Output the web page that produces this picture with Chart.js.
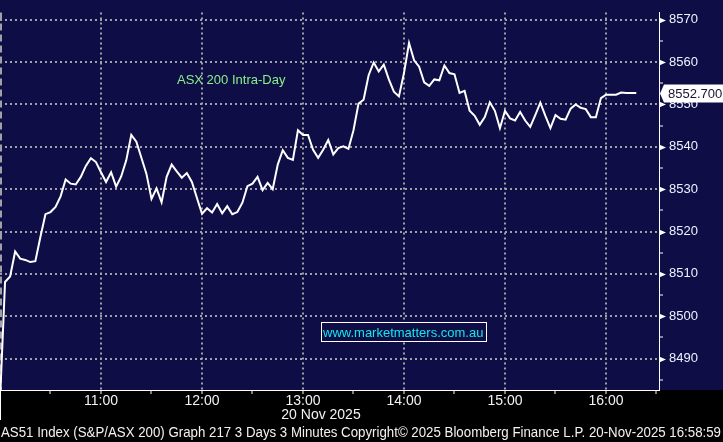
<!DOCTYPE html>
<html>
<head>
<meta charset="utf-8">
<script src="https://cdn.jsdelivr.net/npm/chart.js@4/dist/chart.umd.min.js"></script>
<style>
  html, body { margin: 0; padding: 0; background: #000; }
</style>
</head>
<body>
<canvas id="chartAsx" width="723" height="442"></canvas>
<script>
// AS51 intraday, 3 minute closes from 10:00
const startHour = 10;
const stepMinutes = 3;
const closes = [
  8480.0, 8508.1, 8509.4, 8515.3, 8513.6, 8513.3, 8512.8, 8513.0, 8518.7, 8524.1,
  8524.6, 8525.8, 8528.3, 8532.3, 8531.3, 8531.1, 8532.9, 8535.5, 8537.3, 8536.4,
  8534.0, 8531.7, 8534.0, 8530.6, 8533.0, 8536.8, 8542.8, 8541.2, 8537.4, 8533.6,
  8527.7, 8530.2, 8526.9, 8532.9, 8535.8, 8534.2, 8532.7, 8533.8, 8531.7, 8527.9,
  8524.2, 8525.5, 8524.5, 8526.5, 8524.3, 8526.0, 8524.1, 8524.6, 8526.8, 8530.7,
  8531.3, 8532.9, 8529.8, 8531.5, 8530.0, 8535.8, 8539.2, 8537.4, 8536.9, 8543.9,
  8542.8, 8542.8, 8539.3, 8537.4, 8539.3, 8541.6, 8538.2, 8539.7, 8540.1, 8539.5,
  8543.9, 8550.2, 8551.1, 8556.9, 8559.9, 8557.8, 8559.4, 8555.9, 8553.0, 8551.9,
  8557.4, 8564.5, 8560.4, 8558.9, 8555.2, 8554.4, 8555.9, 8555.7, 8559.2, 8557.4,
  8557.1, 8552.7, 8553.2, 8548.5, 8547.3, 8545.2, 8547.0, 8550.5, 8548.5, 8544.4,
  8548.5, 8546.7, 8546.2, 8548.2, 8546.2, 8544.7, 8547.5, 8550.4, 8547.3, 8544.4,
  8547.5, 8546.6, 8546.4, 8549.0, 8550.0, 8549.2, 8548.9, 8547.0, 8547.0, 8551.5,
  8552.3, 8552.3, 8552.3, 8552.8, 8552.7, 8552.7, 8552.7
];
const lastValue = 8552.700;

const yMin = 8482.6;
const yMax = 8571.7;
const yMajorStep = 10;
const xMaxMinutes = 391.5;

const chartLabel = "ASX 200 Intra-Day";
const dateLabel = "20 Nov 2025";
const siteLabel = "www.marketmatters.com.au";
const footerText = "AS51 Index (S&P/ASX 200) Graph 217 3 Days 3 Minutes Copyright\u00A9 2025 Bloomberg Finance L.P. 20-Nov-2025 16:58:59";

const navy = '#0f0d45';
const gridGray = '#a0a0a6';
const fontFamily = '"Liberation Sans", Arial, sans-serif';

let points = closes.map((v, i) => ({ x: i * stepMinutes, y: v }));

// 🔥 background, labels, value tag
const bloombergFrame = {
  id: 'bloombergFrame',
  beforeDraw(chart) {
    let ctx = chart.ctx;
    ctx.save();
    ctx.fillStyle = '#000';
    ctx.fillRect(0, 0, chart.width, chart.height);
    ctx.fillStyle = navy;
    ctx.fillRect(0, 0, chart.width, chart.chartArea.bottom);
    ctx.restore();
  },
  beforeDatasetsDraw(chart) {
    let ctx = chart.ctx;
    let area = chart.chartArea;
    ctx.save();
    ctx.strokeStyle = gridGray;
    ctx.lineWidth = 2;
    ctx.setLineDash([7, 4]);
    ctx.beginPath();
    ctx.moveTo(1, area.top);
    ctx.lineTo(1, area.bottom);
    ctx.stroke();
    ctx.restore();
  },
  afterDraw(chart) {
    let ctx = chart.ctx;
    let area = chart.chartArea;
    let yScale = chart.scales.y;
    ctx.save();

    // triangles on major ticks
    ctx.fillStyle = '#ffffff';
    yScale.ticks.forEach(t => {
      if (t.value % yMajorStep !== 0) return;
      let py = Math.round(yScale.getPixelForValue(t.value)) + 0.5;
      ctx.beginPath();
      ctx.moveTo(area.right, py - 3);
      ctx.lineTo(area.right + 7, py);
      ctx.lineTo(area.right, py + 3);
      ctx.closePath();
      ctx.fill();
    });

    // left white line below plot
    ctx.strokeStyle = '#ffffff';
    ctx.lineWidth = 1;
    ctx.beginPath();
    ctx.moveTo(0.5, area.bottom);
    ctx.lineTo(0.5, area.bottom + 30);
    ctx.stroke();

    // chart label
    ctx.font = '13px ' + fontFamily;
    ctx.textBaseline = 'middle';
    ctx.textAlign = 'left';
    ctx.fillStyle = '#86f286';
    ctx.fillText(chartLabel, 177, 80);

    // site box
    ctx.fillStyle = navy;
    ctx.fillRect(321, 322, 166, 20);
    ctx.strokeStyle = '#ffffff';
    ctx.strokeRect(321.5, 322.5, 165, 19);
    ctx.fillStyle = '#12e6ee';
    ctx.fillText(siteLabel, 323, 333);

    // last value tag
    let ty = Math.round(yScale.getPixelForValue(lastValue)) + 0.5;
    ctx.fillStyle = '#ffffff';
    ctx.beginPath();
    ctx.moveTo(area.right + 1, ty);
    ctx.lineTo(area.right + 5, ty - 9);
    ctx.lineTo(chart.width, ty - 9);
    ctx.lineTo(chart.width, ty + 9);
    ctx.lineTo(area.right + 5, ty + 9);
    ctx.closePath();
    ctx.fill();
    ctx.fillStyle = '#1b1230';
    ctx.fillText(lastValue.toFixed(3), area.right + 9, ty + 0.5);

    // date under the time axis
    ctx.font = '14px ' + fontFamily;
    ctx.fillStyle = '#f2f2f2';
    ctx.textAlign = 'center';
    ctx.fillText(dateLabel, 321, 415);

    // footer, squeezed to the canvas width
    ctx.textAlign = 'left';
    let w = ctx.measureText(footerText).width;
    ctx.translate(1, 433);
    ctx.scale(Math.min(1, 720 / w), 1);
    ctx.fillText(footerText, 0, 0);

    ctx.restore();
  }
};

let ctx = document.getElementById('chartAsx').getContext('2d');

let chart = new Chart(ctx, {
  type: 'line',
  data: {
    datasets: [{
      data: points,
      borderColor: '#ffffff',
      borderWidth: 2,
      pointRadius: 0,
      tension: 0,
      fill: false
    }]
  },
  options: {
    responsive: false,
    animation: false,
    devicePixelRatio: 1,
    layout: { padding: 0 },
    plugins: {
      legend: { display: false },
      tooltip: { enabled: false }
    },
    scales: {
      x: {
        type: 'linear',
        min: 0,
        max: xMaxMinutes,
        afterFit: s => { s.height = 52; },
        border: { display: true, color: '#ffffff', width: 1, dash: [2, 3] },
        grid: {
          color: c => (c.tick && c.tick.value > 0 && c.tick.value % 60 === 0) ? gridGray : 'transparent',
          lineWidth: 2,
          drawTicks: true,
          tickLength: 4,
          tickColor: '#ffffff',
          tickWidth: 1,
          tickBorderDash: []
        },
        ticks: {
          stepSize: 30,
          autoSkip: false,
          includeBounds: false,
          maxRotation: 0,
          padding: 0,
          color: '#f2f2f2',
          font: { family: fontFamily, size: 14, lineHeight: 1 },
          callback: v => (v > 0 && v % 60 === 0) ? (startHour + v / 60) + ':00' : ''
        }
      },
      y: {
        position: 'right',
        min: yMin,
        max: yMax,
        afterFit: s => { s.width = 64; },
        border: { display: true, color: '#ffffff', width: 1, dash: [2, 3] },
        grid: {
          color: c => (c.tick && c.tick.value % yMajorStep === 0) ? gridGray : 'transparent',
          lineWidth: 2,
          drawTicks: true,
          tickLength: 4,
          tickColor: '#ffffff',
          tickWidth: 1,
          tickBorderDash: []
        },
        ticks: {
          stepSize: 5,
          autoSkip: false,
          includeBounds: false,
          padding: 6,
          color: '#eef2ff',
          font: { family: fontFamily, size: 13, lineHeight: 1 },
          callback: v => v % yMajorStep === 0 ? String(v) : ''
        }
      }
    }
  },
  plugins: [bloombergFrame]
});
</script>
</body>
</html>
